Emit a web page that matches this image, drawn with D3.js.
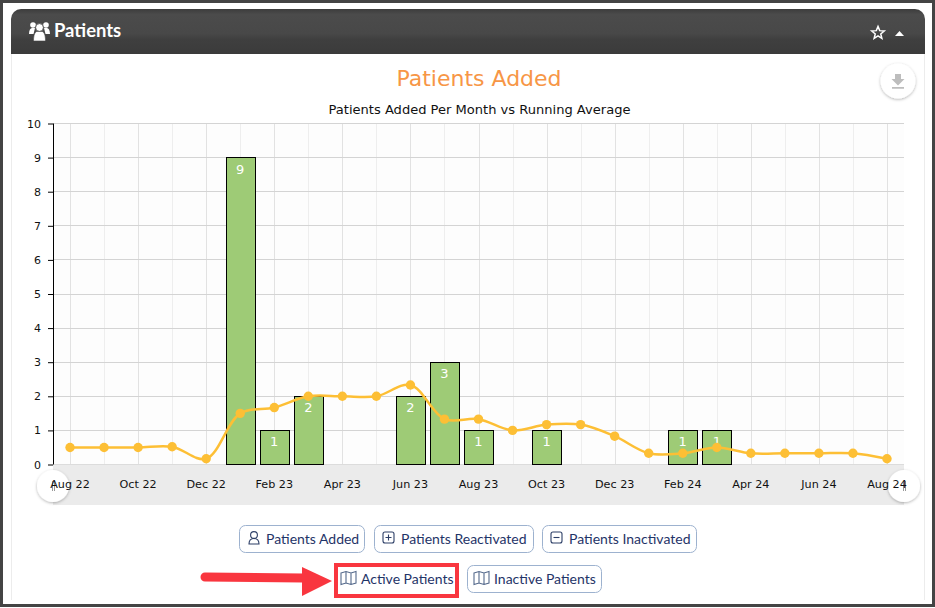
<!DOCTYPE html>
<html><head><meta charset="utf-8">
<script src="https://cdn.jsdelivr.net/npm/d3@7"></script>
<style>
html,body{margin:0;padding:0;background:#fff}
svg{display:block}
text{font-family:"DejaVu Sans",Verdana,sans-serif}
.lato{font-family:Lato,"Open Sans",sans-serif}
</style></head><body>
<svg id="c" width="935" height="608"></svg>
<script>
const categories=["Aug 22","Sep 22","Oct 22","Nov 22","Dec 22","Jan 23","Feb 23","Mar 23","Apr 23","May 23","Jun 23","Jul 23","Aug 23","Sep 23","Oct 23","Nov 23","Dec 23","Jan 24","Feb 24","Mar 24","Apr 24","May 24","Jun 24","Jul 24","Aug 24"];
const patientsAdded=[0,0,0,0,0,9,1,2,0,0,2,3,1,0,1,0,0,0,1,1,0,0,0,0,0];
const runningAverage=[0.5,0.5,0.5,0.52,0.17,1.5,1.67,2,2,2,2.33,1.33,1.33,1,1.17,1.17,0.83,0.33,0.33,0.5,0.33,0.33,0.33,0.33,0.17];
const yTicks=[0,1,2,3,4,5,6,7,8,9,10];
const xTickLabels=categories.filter((d,i)=>i%2===0);
const panelTitle="Patients";
const chartTitle="Patients Added";
const chartSubtitle="Patients Added Per Month vs Running Average";
const buttonsTop=["Patients Added","Patients Reactivated","Patients Inactivated"];
const buttonsBottom=["Active Patients","Inactive Patients"];

const svg=d3.select("#c");
const defs=svg.append("defs");
const g1=defs.append("linearGradient").attr("id","hdr").attr("x1",0).attr("x2",0).attr("y1",0).attr("y2",1);
[[0,"#3c3c3c"],[0.12,"#4b4b4b"],[0.55,"#484848"],[0.68,"#3f3f3f"],[1,"#3b3b3b"]].forEach(s=>g1.append("stop").attr("offset",s[0]).attr("stop-color",s[1]));
const sh=defs.append("filter").attr("id","sh").attr("x","-40%").attr("y","-40%").attr("width","180%").attr("height","180%");
sh.append("feDropShadow").attr("dx",0).attr("dy",1).attr("stdDeviation",1.6).attr("flood-color","#000").attr("flood-opacity",0.3);

// frame and panel
svg.append("rect").attr("x",1.5).attr("y",1.5).attr("width",932).attr("height",604).attr("fill","#fff").attr("stroke","#444").attr("stroke-width",3);
svg.append("path").attr("d","M11.5 54V600M924.5 54V600").attr("stroke","#ececec").attr("fill","none");
svg.append("path").attr("d","M11 54V19a10 10 0 0 1 10-10H915a10 10 0 0 1 10 10V54Z").attr("fill","url(#hdr)");

// header icons
const ppl=svg.append("g").attr("fill","#fff");
[[33,25,2.8],[46,25,2.8]].forEach(d=>ppl.append("circle").attr("cx",d[0]).attr("cy",d[1]).attr("r",d[2]));
ppl.append("path").attr("d","M29 34c0-4 1.500-6 3-6h3l-1.500 6ZM50 34c0-4-1.500-6-3-6h-3l1.500 6Z");
ppl.append("circle").attr("cx",39.5).attr("cy",27.5).attr("r",3.9).attr("stroke","#444").attr("stroke-width",.8);
ppl.append("path").attr("d","M33.500 41c0-6 1.500-9.500 3.500-9.500h5c2 0 3.500 3.500 3.500 9.500Z").attr("stroke","#444").attr("stroke-width",.6);
svg.append("text").attr("class","lato").attr("x",54).attr("y",37).attr("fill","#fff").attr("font-size",18.4).attr("font-weight",700).text(panelTitle);
const star=d3.range(10).map(i=>{const r=i%2?2.9:6.6,a=-Math.PI/2+i*Math.PI/5;return [878+r*Math.cos(a),33+r*Math.sin(a)];});
svg.append("path").attr("d","M"+star.map(p=>p.map(v=>v.toFixed(2)).join(",")).join("L")+"Z").attr("fill","none").attr("stroke","#fff").attr("stroke-width",1.5);
svg.append("path").attr("d","M895 36L899.500 31L904 36Z").attr("fill","#fff");

// titles
svg.append("text").attr("x",479).attr("y",86).attr("text-anchor","middle").attr("font-size",22).attr("fill","#f79646").text(chartTitle);
svg.append("text").attr("x",479.500).attr("y",114).attr("text-anchor","middle").attr("font-size",13.05).attr("fill","#111").text(chartSubtitle);

// download button
svg.append("circle").attr("cx",898).attr("cy",81).attr("r",17.5).attr("fill","#fff").attr("filter","url(#sh)");
svg.append("path").attr("d","M895 74h6v5h3.500l-6.500 6.500l-6.500-6.500H895ZM892 87h12v1.800h-12Z").attr("fill","#bdbdbd");

// chart
const plotLeft=53,plotRight=904,plotTop=123.5,plotBottom=464.5;
const x=d3.scaleBand().domain(categories).range([plotLeft,plotRight]);
const y=d3.scaleLinear().domain([0,10]).range([plotBottom,plotTop]);
const plot=svg.append("g");
plot.append("rect").attr("x",plotLeft).attr("y",plotTop).attr("width",plotRight-plotLeft).attr("height",plotBottom-plotTop).attr("fill","#fdfdfd");
const cx=d=>x(d)+x.bandwidth()/2;
const gy=v=>Math.floor(y(v))+.5;
plot.selectAll(".vg").data(categories).join("line").attr("x1",d=>Math.round(cx(d))+.5).attr("x2",d=>Math.round(cx(d))+.5).attr("y1",plotTop).attr("y2",plotBottom)
  .attr("stroke",(d,i)=>i%2?"#eeeeee":"#e2e2e2");
plot.selectAll(".hg").data(yTicks.filter(d=>d>0)).join("line").attr("x1",plotLeft).attr("x2",plotRight).attr("y1",gy).attr("y2",gy).attr("stroke","#d4d4d4");

// slider band
svg.append("rect").attr("x",plotLeft).attr("y",465).attr("width",plotRight-plotLeft).attr("height",40).attr("fill","#ebebeb");
svg.append("line").attr("x1",plotLeft).attr("x2",plotRight).attr("y1",464.5).attr("y2",464.5).attr("stroke","#dcdcdc");
[plotLeft,plotRight].forEach(c=>{
  svg.append("circle").attr("cx",c).attr("cy",486).attr("r",16).attr("fill","#fff").attr("filter","url(#sh)");
  svg.append("path").attr("d",`M${c-1}.5 481V491M${c+1}.5 481V491`).attr("stroke","#999").attr("fill","none");
});

// bars
const barW=29;
const bars=categories.map((c,i)=>({c,v:patientsAdded[i]})).filter(d=>d.v>0);
svg.selectAll(".bar").data(bars).join("rect").attr("x",d=>Math.round(cx(d.c)-barW/2)+.5).attr("width",barW).attr("y",d=>gy(d.v)).attr("height",d=>plotBottom-gy(d.v))
  .attr("fill","#9ecb76").attr("stroke","#000").attr("stroke-width",1);
svg.selectAll(".bl").data(bars).join("text").attr("x",d=>cx(d.c)).attr("y",d=>y(d.v)+16).attr("text-anchor","middle").attr("font-size",13).attr("fill","#fff").text(d=>d.v);

// line
const line=d3.line().x((d,i)=>cx(categories[i])).y(d=>y(d)).curve(d3.curveCatmullRom.alpha(0.5));
svg.append("path").attr("d",line(runningAverage)).attr("fill","none").attr("stroke","#fdbf35").attr("stroke-width",2.5);
svg.selectAll(".pt").data(runningAverage).join("circle").attr("cx",(d,i)=>cx(categories[i])).attr("cy",d=>y(d)).attr("r",4.7).attr("fill","#fdbf35");

// axes
const yAxis=svg.append("g").attr("transform",`translate(${plotLeft},0)`).call(d3.axisLeft(y).tickValues(yTicks).tickSize(5).tickPadding(7).tickFormat(d3.format("d")));
yAxis.select(".domain").attr("stroke","#000").attr("d",`M0.5 ${plotTop}V${plotBottom}`);
yAxis.selectAll("line").attr("stroke","#000");
yAxis.selectAll("text").attr("font-size",11).attr("fill","#111").attr("font-family","DejaVu Sans");
const xAxis=svg.append("g").attr("transform","translate(0,465)").call(d3.axisBottom(x).tickValues(xTickLabels).tickSize(0).tickPadding(15));
xAxis.select(".domain").remove();
xAxis.selectAll("text").attr("font-size",11.2).attr("fill","#111").attr("font-family","DejaVu Sans");

// buttons
function icon(kind,ix,iy){
  const g=svg.append("g").attr("fill","none").attr("stroke","#2c3e66").attr("stroke-width",1.1);
  if(kind===0){g.append("circle").attr("cx",ix+6).attr("cy",iy+4).attr("r",3.4);g.append("path").attr("d",`M${ix+1} ${iy+13}c0-4 2-5.500 5-5.500s5 1.500 5 5.500Z`);}
  if(kind===1||kind===2){g.append("rect").attr("x",ix).attr("y",iy+1).attr("width",11).attr("height",11).attr("rx",2);g.append("path").attr("d",kind===1?`M${ix+2.5} ${iy+6.500}h6M${ix+5.500} ${iy+3.500}v6`:`M${ix+2.500} ${iy+6.500}h6`);}
  if(kind===3){g.attr("stroke","#556a8c").append("path").attr("d",`M${ix} ${iy+2}l5-1.500l5 1.500l5-1.500V${iy+12}l-5 1.500l-5-1.500l-5 1.500ZM${ix+5} ${iy+.5}V${iy+12}M${ix+10} ${iy+2}V${iy+13.500}`);}
}
function button(label,kind,bx,by,bw,tx){
  svg.append("rect").attr("x",bx+.5).attr("y",by+.5).attr("width",bw).attr("height",27).attr("rx",6).attr("fill","#fff").attr("stroke","#9db2cf");
  icon(kind,bx+(kind===3?7:9),by+6);
  svg.append("text").attr("class","lato").attr("x",tx).attr("y",by+19).attr("font-size",14).attr("fill","#1f3468").text(label);
}
button(buttonsTop[0],0,239,525,125,266);
button(buttonsTop[1],1,374,525,159,401);
button(buttonsTop[2],2,542,525,154,569);
button(buttonsBottom[1],3,467,565,134,494);
icon(3,341,571);
svg.append("text").attr("class","lato").attr("x",361).attr("y",584).attr("font-size",14).attr("fill","#1f3468").text(buttonsBottom[0]);
svg.append("rect").attr("x",336).attr("y",565).attr("width",121).attr("height",31).attr("fill","none").attr("stroke","#f9363f").attr("stroke-width",4);
svg.append("path").attr("d","M205 577L303 578").attr("stroke","#f9363f").attr("stroke-width",9).attr("stroke-linecap","round");
svg.append("path").attr("d","M302 567L332 581L302 596Z").attr("fill","#f9363f");
</script></body></html>
